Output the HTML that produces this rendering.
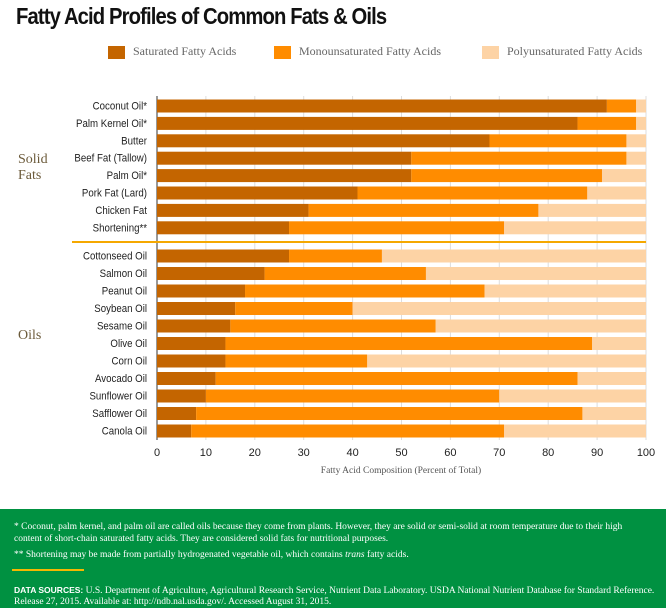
<!DOCTYPE html>
<html><head><meta charset="utf-8">
<style>
body{margin:0;width:666px;height:608px;background:#fff;font-family:"Liberation Sans",sans-serif;position:relative;overflow:hidden}
.title{position:absolute;left:16px;top:3px;font:bold 23px "Liberation Sans",sans-serif;letter-spacing:-1px;transform:scaleX(0.88);transform-origin:left top;color:#111;white-space:nowrap}
.leg{position:absolute;top:44px;font:12px "Liberation Serif",serif;color:#666;white-space:nowrap}
.leg span{display:inline-block;width:17px;height:13px;vertical-align:middle;margin-right:8px}
.green{position:absolute;left:0;top:509px;width:666px;height:99px;background:#009141;color:#fff;font:9.5px "Liberation Serif",serif}
.green p{margin:0;position:absolute;left:14px;white-space:nowrap}
</style></head><body>
<div class="title">Fatty Acid Profiles of Common Fats &amp; Oils</div>
<div class="leg" style="left:108px"><span style="background:#c46500"></span>Saturated Fatty Acids</div>
<div class="leg" style="left:274px"><span style="background:#ff8c00"></span>Monounsaturated Fatty Acids</div>
<div class="leg" style="left:482px"><span style="background:#fdd3a5"></span>Polyunsaturated Fatty Acids</div>
<svg id="chart" width="666" height="500" style="position:absolute;left:0;top:0"></svg>
<div class="green">
<p style="top:13px">* Coconut, palm kernel, and palm oil are called oils because they come from plants. However, they are solid or semi-solid at room temperature due to their high</p>
<p style="top:25px">content of short-chain saturated fatty acids. They are considered solid fats for nutritional purposes.</p>
<p style="top:41px">** Shortening may be made from partially hydrogenated vegetable oil, which contains <i>trans</i> fatty acids.</p>
<div style="position:absolute;left:12px;top:60px;width:72px;height:2px;background:#f5b800"></div>
<p style="top:76px"><b style="font-family:'Liberation Sans';font-size:8.5px">DATA SOURCES:</b> U.S. Department of Agriculture, Agricultural Research Service, Nutrient Data Laboratory. USDA National Nutrient Database for Standard Reference.</p>
<p style="top:88px">Release 27, 2015. Available at: http://ndb.nal.usda.gov/. Accessed August 31, 2015.</p>
</div>
<script>
const categories=["Coconut Oil*","Palm Kernel Oil*","Butter","Beef Fat (Tallow)","Palm Oil*","Pork Fat (Lard)","Chicken Fat","Shortening**","Cottonseed  Oil","Salmon Oil","Peanut Oil","Soybean Oil","Sesame Oil","Olive Oil","Corn Oil","Avocado Oil","Sunflower Oil","Safflower Oil","Canola Oil"];
const saturated=[92,86,68,52,52,41,31,27,27,22,18,16,15,14,14,12,10,8,7];
const mono=[6,12,28,44,39,47,47,44,19,33,49,24,42,75,29,74,60,79,64];
const poly=[2,2,4,4,9,12,22,29,54,45,33,60,43,11,57,14,30,13,29];
const ticks=[0,10,20,30,40,50,60,70,80,90,100];
const NS="http://www.w3.org/2000/svg";
const svg=document.getElementById('chart');
const x=v=>157+v*4.89;
const yPos=i=>i<8?99.5+i*17.4:249.5+(i-8)*17.5;
function mk(t,a){const e=document.createElementNS(NS,t);for(const k in a)e.setAttribute(k,a[k]);svg.appendChild(e);return e;}
ticks.forEach(t=>{
 const g=mk('line',{x1:x(t),x2:x(t),y1:96,y2:440,stroke:t==0?'#333':'#ddd','stroke-width':1});
 
 
 const l=mk('text',{x:x(t),y:456,'text-anchor':'middle','font-size':11,fill:'#222','font-family':'Liberation Sans, sans-serif'});
 l.textContent=t;
 
 
});
const cols=['#c46500','#ff8c00','#fdd3a5'];
categories.forEach((c,i)=>{
 const y=yPos(i);let acc=0;
 [saturated[i],mono[i],poly[i]].forEach((v,j)=>{
  const r=mk('rect',{x:x(acc),y:y,width:x(acc+v)-x(acc),height:13,fill:cols[j]});
  
  
  acc+=v;
 });
 const t=mk('text',{x:0,y:0,'text-anchor':'end','font-size':11,fill:'#222','font-family':'Liberation Sans, sans-serif',transform:`translate(147,${y+10}) scale(0.88,1)`});
 t.textContent=c;
 
 
});
const sep=mk('line',{x1:72,x2:646,y1:242,y2:242,stroke:'#f5a800','stroke-width':2});


[['Solid',163],['Fats',179],['Oils',339]].forEach(([s,yy])=>{
 const t=mk('text',{x:18,y:yy,'font-size':14,fill:'#6b5a3a','font-family':'Liberation Serif, serif'});
 t.textContent=s;
 
 
});
const xt=mk('text',{x:401,y:473,'text-anchor':'middle','font-size':9.5,fill:'#555','font-family':'Liberation Serif, serif'});
xt.textContent='Fatty Acid Composition (Percent of Total)';


</script>
</body></html>
